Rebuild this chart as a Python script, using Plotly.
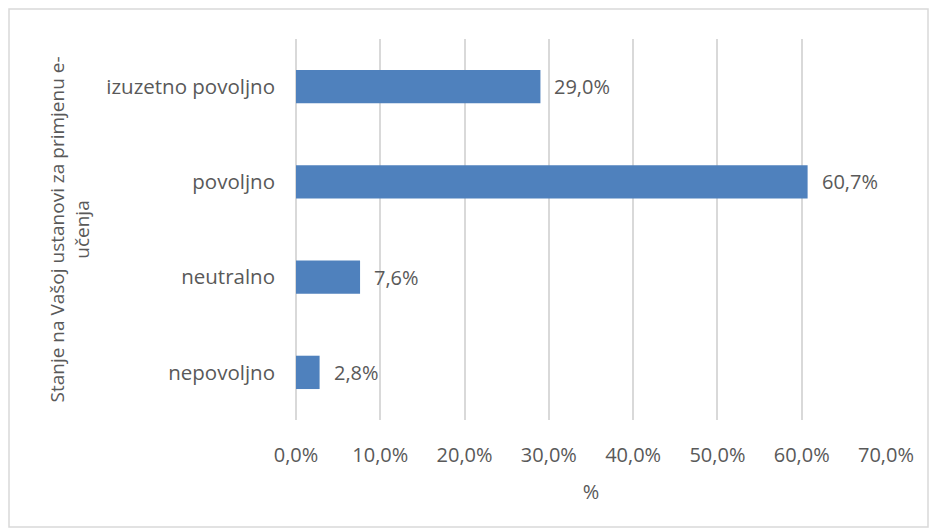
import plotly.graph_objects as go

# Survey answers, bottom to top as drawn on the category axis
categories = ["nepovoljno", "neutralno", "povoljno", "izuzetno povoljno"]
shares = [2.8, 7.6, 60.7, 29.0]
x_ticks = [0, 10, 20, 30, 40, 50, 60, 70]

bar_color = "#4f81bd"
text_color = "#595959"
grid_color = "#d9d9d9"
font_family = "Open Sans"


def pct_label(v):
    return f"{v:.1f}".replace(".", ",") + "%"


fig = go.Figure()
fig.add_trace(
    go.Bar(
        x=shares,
        y=categories,
        orientation="h",
        marker=dict(color=bar_color, line=dict(width=0)),
        hoverinfo="skip",
    )
)

# value labels just past the end of each bar
for cat, v in zip(categories, shares):
    fig.add_annotation(
        x=v, y=cat, xref="x", yref="y",
        text=pct_label(v), showarrow=False,
        xanchor="left", yanchor="middle", xshift=12,
        font=dict(family=font_family, size=20, color=text_color),
    )

fig.update_layout(
    width=937, height=531,
    margin=dict(l=296, r=51, t=39, b=111),
    paper_bgcolor="white", plot_bgcolor="white",
    separators=",.",
    bargap=0.65,
    showlegend=False,
    font=dict(family=font_family, size=20, color=text_color),
    xaxis=dict(
        range=[0, 70],
        tickvals=x_ticks,
        ticktext=[pct_label(t) for t in x_ticks],
        showgrid=True, gridcolor=grid_color, gridwidth=1.5,
        zeroline=True, zerolinecolor=grid_color, zerolinewidth=1.5,
        showline=False, ticks="",
        ticklabelstandoff=21,
        title=dict(text="%", standoff=17, font=dict(size=20, color=text_color)),
        fixedrange=True,
    ),
    yaxis=dict(
        showgrid=False, zeroline=False, showline=False, ticks="",
        ticklabelstandoff=20,
        tickfont=dict(size=20.5),
        title=dict(
            text="Stanje na Vašoj ustanovi za primjenu e-<br>učenja",
            standoff=11, font=dict(size=19, color=text_color),
        ),
        fixedrange=True,
    ),
    shapes=[
        dict(
            type="rect", xref="paper", yref="paper",
            x0=-287 / 590, x1=1 + 42 / 590, y0=-107 / 381, y1=1 + 30 / 381,
            line=dict(color=grid_color, width=1.5), fillcolor="rgba(0,0,0,0)",
            layer="below",
        )
    ],
)

fig.write_html("out.html", config={"displayModeBar": False})
